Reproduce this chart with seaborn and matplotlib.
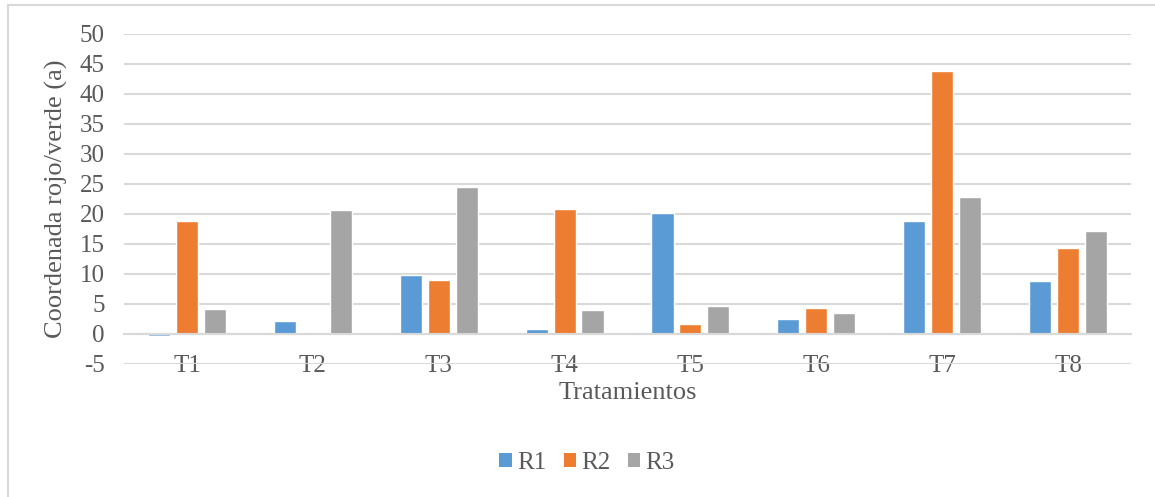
import matplotlib
matplotlib.use("Agg")
import matplotlib.pyplot as plt
from matplotlib.patches import Patch
from matplotlib.lines import Line2D
import seaborn as sns
import pandas as pd

# Data: coordenada a* por tratamiento y repetición
tratamientos = ["T1", "T2", "T3", "T4", "T5", "T6", "T7", "T8"]
r1 = [-0.4, 2.2, 9.8, 0.8, 20.2, 2.5, 18.8, 8.9]
r2 = [18.8, 0.2, 9.0, 20.8, 1.7, 4.3, 43.8, 14.3]
r3 = [4.1, 20.7, 24.5, 4.0, 4.6, 3.5, 22.8, 17.2]
series = ["R1", "R2", "R3"]
yticks = list(range(-5, 55, 5))

colors = ["#5B9BD5", "#ED7D31", "#A5A5A5"]
text_color = "#595959"
grid_color = "#D9D9D9"

df = pd.DataFrame({
    "Tratamiento": tratamientos * 3,
    "Serie": [s for s in series for _ in tratamientos],
    "Valor": r1 + r2 + r3,
})

sns.set_theme(style="white")
plt.rcParams["font.family"] = ["Liberation Serif", "DejaVu Serif"]

fig = plt.figure(figsize=(11.55, 4.97), dpi=100)
ax = fig.add_axes([124 / 1155, 1 - 364 / 497, 1007 / 1155, 330 / 497])

sns.barplot(data=df, x="Tratamiento", y="Valor", hue="Serie",
            palette=colors, width=0.667, gap=0.21, saturation=1,
            legend=False, ax=ax)

ax.set_ylim(-5, 50)
ax.set_xlim(-0.5, len(tratamientos) - 0.5)
ax.set_yticks(yticks)
ax.set_yticklabels([str(v) for v in yticks])

ax.yaxis.grid(True, color=grid_color, linewidth=1.5)
ax.set_axisbelow(True)
for side in ["left", "right", "top"]:
    ax.spines[side].set_visible(False)
ax.spines["bottom"].set_position(("data", 0))
ax.spines["bottom"].set_color(grid_color)
ax.spines["bottom"].set_linewidth(1.5)

ax.tick_params(axis="x", length=0, pad=15, labelsize=18, labelcolor=text_color)
ax.tick_params(axis="y", length=0, pad=14, labelsize=18, labelcolor=text_color)

ax.set_xlabel("")
ax.set_ylabel("Coordenada rojo/verde (a)", fontsize=19, color=text_color)
ax.yaxis.set_label_coords(-0.056, 0.5)

fig.text(627.5 / 1155, 1 - 393 / 497, "Tratamientos", fontsize=19,
         color=text_color, ha="center", va="center")

handles = [Patch(facecolor=c, edgecolor="none") for c in colors]
fig.legend(handles, series, loc="center", ncol=3,
           bbox_to_anchor=(587 / 1155, 1 - 463 / 497), frameon=False,
           fontsize=18, handlelength=0.5, handleheight=0.5,
           handletextpad=0.2, columnspacing=0.7, labelcolor=text_color)

# Chart frame
fig.add_artist(Line2D([7.5 / 1155, 7.5 / 1155], [0, 1 - 5 / 497],
                      transform=fig.transFigure, color=grid_color, linewidth=1.5))
fig.add_artist(Line2D([7.5 / 1155, 1], [1 - 5 / 497, 1 - 5 / 497],
                      transform=fig.transFigure, color=grid_color, linewidth=1.5))

fig.savefig("out.png", dpi=100)
